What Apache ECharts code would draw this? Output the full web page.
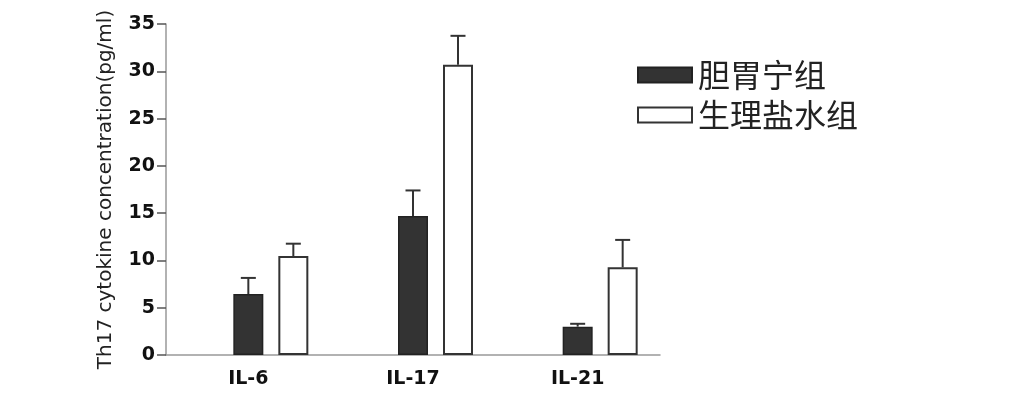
<!DOCTYPE html>
<html>
<head>
<meta charset="utf-8">
<script src="https://cdn.jsdelivr.net/npm/echarts@6/dist/echarts.min.js"></script>
<style>
  html, body { margin: 0; padding: 0; background: #fff; }
  #chart { width: 1022px; height: 419px; }
</style>
</head>
<body>
<div id="chart"></div>
<script>
  // data
  let cytokines = ['IL-6', 'IL-17', 'IL-21'];
  let dgnMean = [6.45, 14.7, 3.0];
  let dgnErr = [1.7, 2.7, 0.3];
  let salineMean = [10.47, 30.7, 9.27];
  let salineErr = [1.3, 3.05, 2.9];
  let yTicks = [0, 5, 10, 15, 20, 25, 30, 35];

  let barW = 30;
  let gapW = 15;

  function errorItem(offset) {
    return function (params, api) {
      let idx = api.value(0);
      let base = api.coord([idx, api.value(1)]);
      let top = api.coord([idx, api.value(1) + api.value(2)]);
      let x = base[0] + offset;
      return {
        type: 'group',
        children: [
          {
            type: 'line',
            shape: { x1: x, y1: base[1], x2: x, y2: top[1] },
            style: { stroke: '#333', lineWidth: 2 }
          },
          {
            type: 'line',
            shape: { x1: x - 7.5, y1: top[1], x2: x + 7.5, y2: top[1] },
            style: { stroke: '#333', lineWidth: 2 }
          }
        ]
      };
    };
  }

  let myChart = echarts.init(document.getElementById('chart'));
  let option = {
    animation: false,
    grid: {
      left: 166,
      top: 24,
      width: 494,
      height: 331
    },
    legend: {
      data: ['胆胃宁组', '生理盐水组'],
      orient: 'vertical',
      left: 637,
      top: 59,
      padding: 0,
      itemWidth: 54,
      itemHeight: 15,
      itemGap: 8,
      icon: 'rect',
      selectedMode: false,
      textStyle: {
        fontFamily: 'Noto Sans CJK SC',
        fontSize: 32,
        color: '#222',
        lineHeight: 32,
        padding: [0, 0, 0, 1]
      }
    },
    xAxis: {
      type: 'category',
      data: cytokines,
      axisLine: { lineStyle: { color: '#999', width: 1.5 } },
      axisTick: { alignWithLabel: true, length: 8, lineStyle: { color: '#444', width: 2 } },
      axisLabel: {
        fontFamily: 'DejaVu Sans',
        fontWeight: 'bold',
        fontSize: 19,
        color: '#111',
        margin: 15
      }
    },
    yAxis: {
      type: 'value',
      min: yTicks[0],
      max: yTicks[yTicks.length - 1],
      interval: 5,
      name: 'Th17 cytokine concentration(pg/ml)',
      nameLocation: 'middle',
      nameGap: 50,
      nameTextStyle: {
        fontFamily: 'DejaVu Sans',
        fontSize: 20,
        color: '#222'
      },
      splitLine: { show: false },
      axisLine: { show: true, lineStyle: { color: '#999', width: 1.5 } },
      axisTick: { show: true, length: 9, lineStyle: { color: '#555', width: 1.5 } },
      axisLabel: {
        fontFamily: 'DejaVu Sans',
        fontWeight: 'bold',
        fontSize: 19,
        color: '#111',
        margin: 11
      }
    },
    series: [
      {
        // empty slot so the dark bar sits on the category tick
        name: 'ghost',
        type: 'bar',
        silent: true,
        barWidth: barW,
        barGap: (gapW / barW * 100) + '%',
        data: [0, 0, 0],
        itemStyle: { color: 'transparent' }
      },
      {
        name: '胆胃宁组',
        type: 'bar',
        barWidth: barW,
        barGap: (gapW / barW * 100) + '%',
        data: dgnMean,
        itemStyle: { color: '#333', borderColor: '#222', borderWidth: 1.5 }
      },
      {
        name: '生理盐水组',
        type: 'bar',
        barWidth: barW,
        barGap: (gapW / barW * 100) + '%',
        data: salineMean,
        itemStyle: { color: '#fff', borderColor: '#333', borderWidth: 2 }
      },
      {
        name: 'dgnErr',
        type: 'custom',
        silent: true,
        z: 1,
        renderItem: errorItem(0),
        encode: { x: 0, y: 1 },
        data: dgnMean.map((v, i) => [i, v, dgnErr[i]])
      },
      {
        name: 'salineErr',
        type: 'custom',
        silent: true,
        z: 1,
        renderItem: errorItem(barW + gapW),
        encode: { x: 0, y: 1 },
        data: salineMean.map((v, i) => [i, v, salineErr[i]])
      }
    ]
  };
  myChart.setOption(option);
</script>
</body>
</html>
